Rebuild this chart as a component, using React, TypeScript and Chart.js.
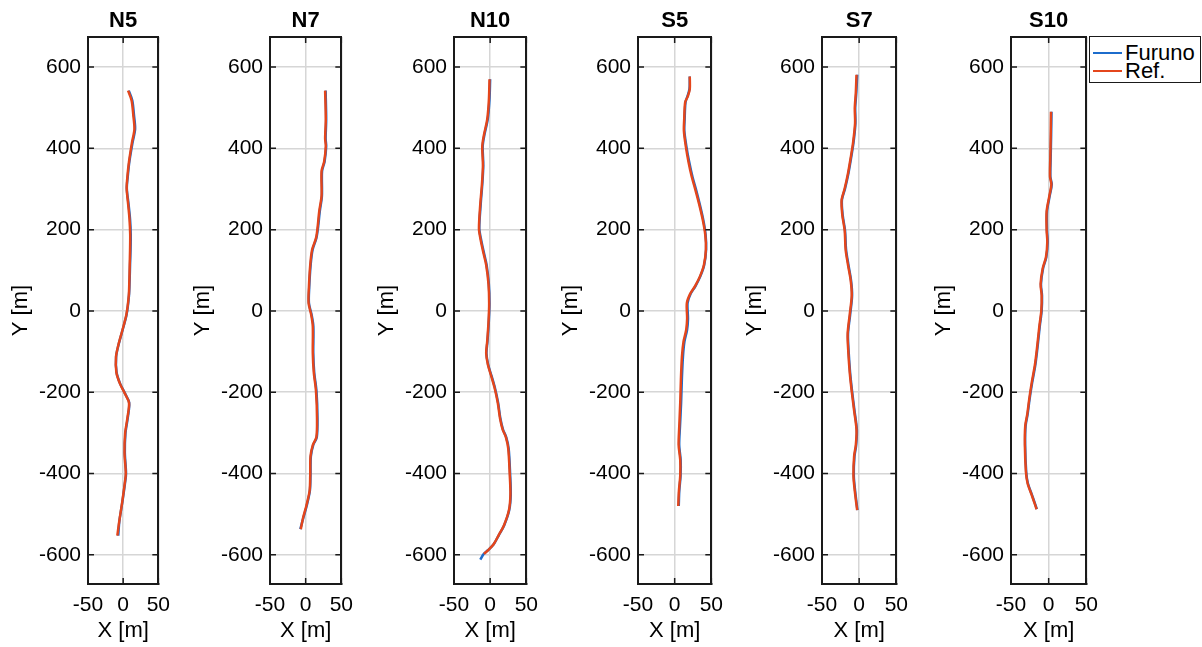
import React, { useEffect, useRef } from 'react';
import { Chart, registerables } from 'chart.js';

Chart.register(...registerables);

// ---------------- data ----------------
const xTicks = [-50, 0, 50];
const yTicks = [-600, -400, -200, 0, 200, 400, 600];
const xMin = -50;
const xMax = 50;
const yMin = -672;
const yMax = 674;
const seriesLabels = ['Furuno', 'Ref.'];

const n5Y = [542, 518, 480, 447, 414, 367, 330, 301, 264, 226, 188, 150, 113, 75, 38, -9, -47, -85, -113, -151, -179, -203, -226, -264, -301, -349, -400, -424, -471, -518, -553];
const n5Furuno = [8, 13, 15.5, 17, 13.3, 8.8, 6.5, 5.2, 7.6, 9.8, 10.8, 10.5, 9.8, 9.2, 8.3, 4.9, -0.8, -6.8, -10, -9.4, -4.3, 2.6, 8.6, 6.5, 3.3, 2.4, 4.1, 2.6, -1.2, -5.4, -7];
const n5Ref = [7, 12, 14.5, 16, 12.5, 8.3, 6, 5, 7, 9, 10, 9.8, 9.3, 8.8, 8, 4.6, -1, -7, -10.2, -9.7, -4.6, 2.3, 8.3, 6, 2.8, 1.9, 3.7, 2.3, -1.4, -5.6, -8.3];

const n7Y = [542, 471, 424, 405, 367, 344, 283, 245, 207, 179, 151, 113, 57, 19, -9, -38, -104, -151, -198, -264, -311, -330, -358, -405, -443, -480, -509, -537];
const n7Furuno = [28, 28.8, 28, 28.8, 26.5, 23, 22.8, 19.8, 17.5, 15, 9.8, 7, 5, 4.6, 8.3, 10.8, 10.7, 12, 15.2, 16.6, 15.6, 10.6, 7.3, 6.8, 5.9, 1.4, -3.2, -7.5];
const n7Ref = [27.3, 28.2, 27.3, 28.2, 25.9, 22.3, 22.3, 19, 16.8, 14.5, 9.1, 6.4, 4.5, 4.1, 7.7, 10, 10, 11.4, 14.5, 15.9, 15, 10, 6.8, 6.4, 5.5, 0.9, -3.6, -6.8];

const n10Y = [570, 518, 471, 433, 405, 358, 311, 264, 203, 179, 141, 113, 66, 19, -28, -75, -104, -132, -160, -188, -226, -264, -292, -311, -339, -400, -452, -490, -528, -551, -575, -589, -598, -612];
const n10Furuno = [0, -1, -3.4, -8, -10.3, -9.5, -10.9, -13, -15, -12.9, -8.4, -4.9, -1.8, -0.9, -1.9, -3.7, -5.1, -2.8, 1.9, 6.4, 11, 14.1, 17.8, 22.3, 25.6, 27.6, 28.5, 26.4, 19.3, 12.2, 4.6, -3.2, -9, -13.6];
const n10Ref = [-0.9, -1.8, -4.1, -8.6, -10.9, -10, -11.4, -13.6, -15.5, -13.6, -9.1, -5.5, -2.3, -1.4, -2.3, -4.1, -5.5, -3.2, 1.4, 5.9, 10.5, 13.6, 17.3, 21.8, 25, 27, 28, 26, 19, 12, 4.5, -3, -8.6];

const s5Y = [577, 546, 528, 513, 471, 443, 405, 367, 330, 301, 264, 226, 188, 151, 113, 85, 61, 42, 19, -19, -47, -75, -113, -170, -226, -283, -330, -367, -405, -443, -480];
const s5Furuno = [20.6, 20.2, 17.4, 14.8, 13.6, 13.2, 16, 19.8, 24.3, 28.8, 34, 38.8, 42.2, 42.9, 40.3, 35, 28.4, 21.8, 17.6, 18.2, 16.9, 13.4, 11.3, 9.8, 8.8, 7.3, 6.2, 8.2, 8.1, 6.3, 5.6];
const s5Ref = [20.6, 20.6, 17.9, 14.3, 13, 12.6, 15.2, 18.8, 23.3, 27.8, 33.2, 38.1, 41.7, 42.6, 39.9, 34.5, 27.8, 21.1, 16.6, 17, 15.7, 12.1, 9.9, 8.5, 7.6, 6.3, 5.4, 7.6, 7.6, 5.8, 4.9];

const s7Y = [581, 537, 499, 462, 414, 377, 339, 301, 273, 236, 198, 151, 113, 75, 38, -9, -57, -104, -151, -198, -245, -292, -330, -358, -405, -443, -490];
const s7Furuno = [-2.6, -3.8, -5.3, -5, -7.6, -10.8, -14.4, -19, -23.2, -22.2, -19, -17.6, -14.4, -10.9, -9.5, -12.1, -15, -14, -12.2, -9.5, -6.3, -3.1, -4, -6.3, -7.2, -5.4, -2.3];
const s7Ref = [-3.6, -4.5, -5.9, -5.5, -8.2, -11.4, -15, -19.5, -23.6, -22.7, -19.5, -18.2, -15, -11.4, -10, -12.7, -15.5, -14.5, -12.7, -10, -6.8, -3.6, -4.5, -6.8, -7.7, -5.9, -2.7];

const s10Y = [490, 433, 377, 330, 311, 283, 245, 198, 170, 132, 104, 66, 38, 0, -38, -85, -132, -179, -217, -254, -283, -330, -396, -424, -452, -476, -488];
const s10Furuno = [3.8, 3.3, 2.7, 2.3, 4.1, 1.4, -2.2, -2.2, -1.3, -3.1, -7.5, -10.2, -8.8, -9.3, -11.8, -14.5, -17.6, -22.1, -25.3, -27.9, -30.6, -31.2, -29.8, -27.6, -22.3, -17.8, -15.7];
const s10Ref = [3.1, 2.7, 2.2, 1.8, 3.6, 0.9, -2.7, -2.7, -1.8, -3.6, -8, -10.7, -9.3, -9.8, -12.4, -15.1, -18.2, -22.7, -25.8, -28.4, -31.1, -31.6, -30.2, -28, -22.7, -18.2, -16];

const tracks = [
  { name: 'N5', y: n5Y, furuno: n5Furuno, ref: n5Ref },
  { name: 'N7', y: n7Y, furuno: n7Furuno, ref: n7Ref },
  { name: 'N10', y: n10Y, furuno: n10Furuno, ref: n10Ref },
  { name: 'S5', y: s5Y, furuno: s5Furuno, ref: s5Ref },
  { name: 'S7', y: s7Y, furuno: s7Furuno, ref: s7Ref },
  { name: 'S10', y: s10Y, furuno: s10Furuno, ref: s10Ref },
];

// ---------------- style / layout ----------------
const BLUE = '#1c6ccc';
const RED = '#e4461c';
const AXIS = '#1a1a1a';
const GRID = '#d6d6d6';
const FONT = '"Liberation Sans", Arial, Helvetica, sans-serif';
const boxLefts = [88, 270, 454, 638, 822, 1011];
const boxWidths = [71, 72, 73, 74, 75, 76];
const AXIS_W = 88;
const RIGHT_PAD = 20;
const H = 647;

Chart.defaults.font.family = FONT;
Chart.defaults.color = '#000';

const toPoints = (ys: number[], xs: number[]) => xs.map((x, i) => ({ x, y: ys[i] }));

const innerTicks = {
  id: 'innerTicks',
  afterDraw(chart: any) {
    const { ctx, chartArea: a, scales } = chart;
    const L = 6;
    ctx.save();
    ctx.strokeStyle = AXIS;
    ctx.lineWidth = 1.5;
    ctx.beginPath();
    yTicks.forEach((v) => {
      const p = scales.y.getPixelForValue(v);
      ctx.moveTo(a.left, p);
      ctx.lineTo(a.left + L, p);
      ctx.moveTo(a.right, p);
      ctx.lineTo(a.right - L, p);
    });
    xTicks.forEach((v) => {
      const p = scales.x.getPixelForValue(v);
      ctx.moveTo(p, a.bottom);
      ctx.lineTo(p, a.bottom - L);
      ctx.moveTo(p, a.top);
      ctx.lineTo(p, a.top + L);
    });
    ctx.stroke();
    ctx.restore();
  },
};

function Subplot({ index }: { index: number }) {
  const ref = useRef<HTMLCanvasElement>(null);
  const t = tracks[index];
  const w = AXIS_W + boxWidths[index] + RIGHT_PAD;
  const left = boxLefts[index] - AXIS_W;

  useEffect(() => {
    const canvas = ref.current!;
    const chart = new Chart(canvas, {
      type: 'scatter',
      data: {
        datasets: [
          {
            label: seriesLabels[0],
            data: toPoints(t.y, t.furuno),
            showLine: true,
            borderColor: BLUE,
            backgroundColor: BLUE,
            borderWidth: 2.5,
            pointRadius: 0,
            tension: 0.3,
            order: 2,
          },
          {
            label: seriesLabels[1],
            data: toPoints(t.y, t.ref),
            showLine: true,
            borderColor: RED,
            backgroundColor: RED,
            borderWidth: 2.5,
            pointRadius: 0,
            tension: 0.3,
            order: 1,
          },
        ],
      },
      options: {
        responsive: false,
        animation: false,
        layout: { padding: { left: 0, right: RIGHT_PAD, top: 0, bottom: 0 }, autoPadding: false },
        plugins: {
          legend: { display: false },
          tooltip: { enabled: false },
          title: {
            display: true,
            fullSize: false,
            align: 'center',
            text: t.name,
            color: '#000',
            font: { size: 22, weight: 'bold', family: FONT },
            padding: { top: 8, bottom: 2.6 },
          },
        },
        scales: {
          x: {
            type: 'linear',
            position: 'bottom',
            min: xMin,
            max: xMax,
            afterBuildTicks: (s: any) => {
              s.ticks = xTicks.map((v) => ({ value: v }));
            },
            afterFit: (s: any) => {
              s.height = 63;
            },
            grid: { color: GRID, lineWidth: 1.5, drawTicks: false },
            border: { display: true, color: AXIS, width: 2 },
            ticks: { font: { size: 21 }, color: '#000', padding: 9, maxRotation: 0, autoSkip: false },
            title: { display: true, text: 'X [m]', color: '#000', font: { size: 22 }, padding: { top: 0, bottom: 2.8 } },
          },
          x2: {
            type: 'linear',
            position: 'top',
            min: xMin,
            max: xMax,
            afterFit: (s: any) => {
              s.height = 0;
            },
            grid: { display: false, drawTicks: false },
            border: { display: true, color: AXIS, width: 2 },
            ticks: { display: false },
          },
          y: {
            type: 'linear',
            position: 'left',
            min: yMin,
            max: yMax,
            afterBuildTicks: (s: any) => {
              s.ticks = yTicks.map((v) => ({ value: v }));
            },
            afterFit: (s: any) => {
              s.width = AXIS_W;
            },
            grid: { color: GRID, lineWidth: 1.5, drawTicks: false },
            border: { display: true, color: AXIS, width: 2 },
            ticks: { font: { size: 21 }, color: '#000', padding: 7, autoSkip: false },
            title: { display: true, text: 'Y [m]', color: '#000', font: { size: 22 }, padding: { top: 8, bottom: 0 } },
          },
          y2: {
            type: 'linear',
            position: 'right',
            min: yMin,
            max: yMax,
            afterFit: (s: any) => {
              s.width = 0;
            },
            grid: { display: false, drawTicks: false },
            border: { display: true, color: AXIS, width: 2 },
            ticks: { display: false },
          },
        },
      } as any,
      plugins: [innerTicks],
    });
    return () => chart.destroy();
  }, [index]);

  return (
    <canvas
      ref={ref}
      width={w}
      height={H}
      style={{ position: 'absolute', left, top: 0, width: w, height: H }}
    />
  );
}

function Legend() {
  const row = (color: string, label: string) => (
    <div style={{ display: 'flex', alignItems: 'center', height: 18 }}>
      <div style={{ width: 29, height: 2.5, background: color, marginLeft: 3, marginRight: 3 }} />
      <span style={{ fontSize: 22, lineHeight: '18px', color: '#000' }}>{label}</span>
    </div>
  );
  return (
    <div
      style={{
        position: 'absolute',
        left: 1089,
        top: 36,
        width: 112,
        height: 47,
        boxSizing: 'border-box',
        border: `1.5px solid ${AXIS}`,
        background: '#fff',
        fontFamily: FONT,
        paddingTop: 7,
      }}
    >
      {row(BLUE, seriesLabels[0])}
      {row(RED, seriesLabels[1])}
    </div>
  );
}

export default function App() {
  return (
    <div style={{ position: 'absolute', left: 0, top: 0, width: 1202, height: H, background: '#fff', overflow: 'hidden' }}>
      {tracks.map((_, i) => (
        <Subplot key={i} index={i} />
      ))}
      <Legend />
    </div>
  );
}
